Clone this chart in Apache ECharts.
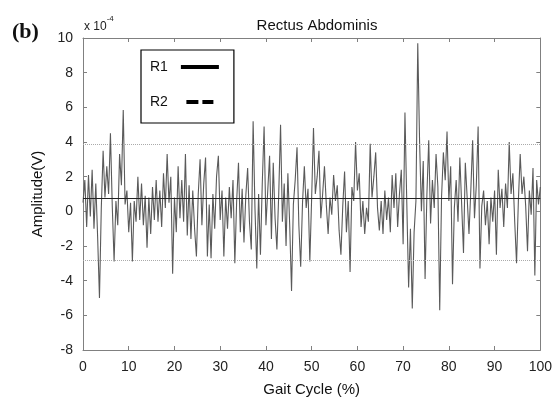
<!DOCTYPE html>
<html><head><meta charset="utf-8">
<script src="https://cdn.jsdelivr.net/npm/echarts@6/dist/echarts.min.js"></script>
<style>html,body{margin:0;padding:0;background:#fff}#c{width:555px;height:409px}</style>
</head><body><div id="c"></div>
<script>
// Amplitude (x 1e-4 V), sampled every 0.4 % of gait cycle, from 0 to 100
const sampleStep = 0.4;
const amplitude = [
  0.5, 1.8, -0.9, 2.1, -0.3, 2.4, -1.0, 1.6, -1.5, -5.0,
  0.2, 3.5, 0.8, 2.6, 1.0, 4.5, 0.3, -2.9, 0.6, -0.8,
  3.3, 1.5, 5.85, 0.4, 1.2, -1.2, 0.5, -2.9, 0.6, -0.6,
  2.0, -0.5, 1.6, -0.8, 0.9, -2.1, 0.8, -1.3, 1.4, -0.5,
  1.8, -0.6, 1.2, -0.9, 2.2, 0.2, 3.3, 0.5, 2.0, -3.6,
  0.8, -1.2, 2.6, -0.4, 1.8, -0.6, 3.3, -1.4, 1.5, -1.6,
  1.2, -1.0, -2.6, 1.0, 3.0, -0.8, 1.6, 3.1, -2.6, 0.4,
  -2.7, 1.0, -1.0, 2.0, 3.2, -0.5, 1.2, -2.6, 0.8, -1.0,
  1.4, -0.4, 1.8, -3.0, 0.6, 2.8, -1.2, 1.3, -1.8, 0.9,
  2.5, -0.6, -2.2, 5.2, 0.2, -3.3, 1.0, -2.5, 1.6, 4.9,
  -0.8, 1.2, 3.2, -1.6, 2.8, -0.4, -2.2, 1.0, 5.0, -0.6,
  1.6, -2.0, 2.2, -0.8, -4.6, 0.4, 1.8, 3.7, -0.8, -3.2,
  0.5, 2.6, 0.2, 1.3, -2.9, 0.8, 4.8, 1.0, 2.0, 3.5,
  -0.4, 1.0, 2.6, 0.4, -1.3, 0.8, -0.2, 2.1, 0.6, 1.5,
  -1.1, -2.5, 0.3, 2.3, -1.2, 0.6, -3.5, 1.4, 0.6, 4.0,
  1.2, 2.2, -0.9, 0.6, -1.3, 0.2, -0.6, 3.9, 0.8, 2.0,
  3.4, 0.2, -1.1, 0.6, -1.3, 1.2, -0.5, 0.8, -1.2, 2.1,
  0.2, 2.2, -0.9, 1.0, 2.4, -1.9, 5.7, 0.5, -4.4, -1.0,
  -5.6, -1.2, 0.6, 9.7, 4.0, 0.0, 2.9, -3.9, 1.0, 4.1,
  -0.7, 1.8, 0.2, 3.3, 1.4, -5.7, 0.8, 3.4, 1.8, 4.6,
  0.6, 2.6, -4.2, 0.2, 1.8, -0.6, 3.1, 0.4, -2.4, 2.8,
  0.8, -1.3, 1.2, 4.1, -0.4, 1.5, 4.9, -3.3, 0.3, 1.2,
  -0.8, 0.6, -1.9, 0.8, -0.6, 1.2, -2.5, 2.4, 0.2, 1.3,
  -0.9, 1.6, 0.2, 4.0, 1.0, 2.2, -0.6, -3.0, 0.6, 3.3,
  1.0, 2.0, 0.3, -2.3, 1.2, -0.2, 2.5, -3.7, 1.8, 0.4,
  1.4
];
const meanLevel = 0.75;
const bandLevels = [3.85, -2.85];
const xTicks = [0, 100, 10];   // min, max, interval
const yTicks = [-8, 10, 2];
const seriesNames = ['R1', 'R2'];

const r1 = amplitude.map((v, i) => [+(i * sampleStep).toFixed(2), v]);

const chart = echarts.init(document.getElementById('c'), null, {renderer: 'canvas'});
const font = 'Liberation Sans, Arial, sans-serif';
const axisGray = '#808080';
const grid = {left: 83, right: 14, top: 38, bottom: 59};

function frameAxis(extra) {
  return Object.assign({
    type: 'value',
    axisLine: {show: true, onZero: false, lineStyle: {color: axisGray, width: 1}},
    axisTick: {show: true, inside: true, length: 4, lineStyle: {color: axisGray}},
    splitLine: {show: false}
  }, extra);
}

chart.setOption({
  animation: false,
  backgroundColor: '#fff',
  title: {
    text: 'Rectus Abdominis', left: 312, top: 13, textAlign: 'center',
    textStyle: {fontFamily: font, fontSize: 15, fontWeight: 'normal', color: '#111'}
  },
  graphic: [
    {type: 'text', left: 12, top: 21, style: {text: '(b)', font: 'bold 22px "Liberation Serif", serif', fill: '#111'}},
    {type: 'text', left: 84, top: 15, style: {
      text: '{a|x 10}{b|-4}',
      rich: {a: {fontFamily: font, fontSize: 12, fill: '#222', padding: [6, 0, 0, 0]},
             b: {fontFamily: font, fontSize: 8, fill: '#222', verticalAlign: 'top', padding: [0, 0, 6, 0]}}
    }}
  ],
  legend: {
    orient: 'vertical', left: 141, top: 50, align: 'right',
    padding: [10, 15, 14, 9], itemGap: 21, itemWidth: 38, itemHeight: 4,
    borderColor: '#000', borderWidth: 1.2, backgroundColor: '#fff',
    textStyle: {fontFamily: font, fontSize: 14, color: '#111', padding: [0, 8, 0, 0]},
    data: [
      {name: seriesNames[0], icon: 'rect', itemStyle: {color: '#000'}},
      {name: seriesNames[1], icon: 'path://M7,0H19V4H7Z M23,0H34V4H23Z', itemStyle: {color: '#000'}}
    ]
  },
  grid: grid,
  xAxis: [
    frameAxis({
      min: xTicks[0], max: xTicks[1], interval: xTicks[2],
      name: 'Gait Cycle (%)', nameLocation: 'middle', nameGap: 32,
      nameTextStyle: {fontFamily: font, fontSize: 15, color: '#111'},
      axisLabel: {fontFamily: font, fontSize: 14, color: '#222', margin: 10}
    }),
    frameAxis({position: 'top', min: xTicks[0], max: xTicks[1], interval: xTicks[2], axisLabel: {show: false}})
  ],
  yAxis: [
    frameAxis({
      min: yTicks[0], max: yTicks[1], interval: yTicks[2],
      name: 'Amplitude(V)', nameLocation: 'middle', nameGap: 38,
      nameTextStyle: {fontFamily: font, fontSize: 15, color: '#111'},
      axisLabel: {fontFamily: font, fontSize: 14, color: '#222', margin: 10}
    }),
    frameAxis({position: 'right', min: yTicks[0], max: yTicks[1], interval: yTicks[2], axisLabel: {show: false}})
  ],
  series: [{
    name: seriesNames[0], type: 'line', data: r1, showSymbol: false, symbol: 'none',
    lineStyle: {color: '#5a5a5a', width: 1.1}, itemStyle: {color: '#000'},
    markLine: {
      silent: true, symbol: 'none', label: {show: false},
      data: [
        {yAxis: meanLevel, lineStyle: {color: '#222', width: 1, type: 'solid'}},
        {yAxis: bandLevels[0], lineStyle: {color: '#aaa', width: 1, type: 'dotted'}},
        {yAxis: bandLevels[1], lineStyle: {color: '#aaa', width: 1, type: 'dotted'}}
      ]
    }
  }, {
    name: seriesNames[1], type: 'line', data: [], showSymbol: false,
    lineStyle: {color: '#000', width: 1, type: 'dashed'}, itemStyle: {color: '#000'}
  }]
});
</script></body></html>
